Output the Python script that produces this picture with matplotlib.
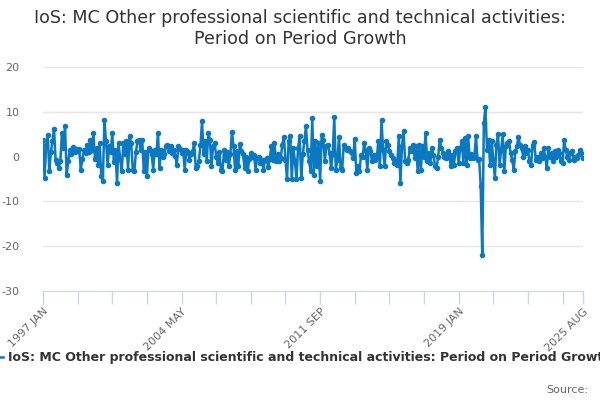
import numpy as np
import matplotlib
matplotlib.use("Agg")
import matplotlib.pyplot as plt

# monthly period-on-period growth, 1997 JAN .. 2025 AUG
growth = [
    3.8, -4.8, 2.5, 4.8, -3.3, 1.0, 3.5, 6.2, -0.8, -1.5, -2.5, -1.0,   # 1997
    5.3, 2.0, 6.8, -4.2, -1.0, 1.5, 0.5, 2.2, 1.0, 1.8, 1.2, 1.6,       # 1998
    -2.9, -0.5, 1.5, 0.8, 2.5, 1.0, 3.8, 1.5, 5.2, -0.5, 2.0, -1.8,     # 1999
    3.0, -4.4, -5.5, 8.2, 3.4, -1.8, 2.3, 1.0, 5.3, -1.2, 1.5, -5.9,    # 2000
    3.0, -0.5, -3.3, 3.0, 0.5, 3.4, -2.9, 4.5, 3.0, -2.9, -3.3, 1.0,    # 2001
    3.4, 3.8, 1.5, 3.8, -3.3, 1.0, -4.4, 2.0, 1.5, 0.5, -2.9, 1.5,      # 2002
    0.5, 5.3, -2.5, 1.5, 0.0, 0.5, 2.3, 2.6, 1.2, 2.3, 0.8, 1.5,        # 2003
    0.2, -1.8, 2.3, 1.8, 0.8, 1.5, -2.9, 1.5, 1.0, -0.7, 0.5, 1.2,      # 2004
    3.0, -2.5, -2.0, -1.0, 2.5, 7.9, 0.5, 3.4, -1.0, 5.3, 3.8, -2.2,    # 2005
    2.3, 3.0, 0.0, -1.4, 1.0, -2.9, -3.3, 1.5, -0.7, 1.0, -2.2, 0.5,    # 2006
    5.6, 2.3, -2.9, 1.2, -2.2, 2.8, 1.2, 0.5, -2.5, 0.0, -3.3, -0.5,    # 2007
    0.8, 0.0, 0.4, -2.9, -0.3, 0.0, -1.5, -0.8, -2.9, -0.7, -0.3, -2.3, # 2008
    -0.5, 2.3, -0.8, 3.0, -1.0, 0.5, -1.0, -0.3, 2.7, 4.4, -0.7, -5.0,  # 2009
    3.4, 4.6, -5.1, 1.9, -1.0, -5.1, 2.0, 4.5, -4.8, 0.5, 3.4, 6.8,     # 2010
    1.5, -1.0, -3.3, 8.6, -4.0, 3.4, -2.2, 3.0, -5.5, 4.9, 3.8, -1.0,   # 2011
    2.3, 2.6, 0.8, -2.6, 0.5, 8.8, -3.0, -0.7, 4.4, -2.5, -2.9, 2.6,    # 2012
    1.9, 1.5, 1.9, 1.2, 0.8, -0.3, 4.0, -3.7, -2.2, -3.3, 0.4, 0.0,     # 2013
    3.0, 1.2, -2.9, 1.9, 1.2, -1.0, 0.4, -0.7, -0.2, 3.4, -2.2, 8.2,    # 2014
    1.5, -2.2, 3.4, 2.6, 1.2, 0.4, -0.3, -1.4, -1.0, -1.8, 4.6, -5.9,   # 2015
    2.3, 5.7, -1.0, -1.4, -0.7, 1.9, 1.2, 2.7, -0.3, 2.3, -3.3, 2.7,    # 2016
    -2.9, 2.3, 0.0, 5.3, -1.0, 0.8, -1.4, 1.9, 0.4, -2.2, -2.5, 0.0,    # 2017
    3.8, 1.9, 0.8, 0.0, -0.3, 1.2, 0.4, -2.2, 0.4, -1.8, 1.2, 1.9,      # 2018
    -1.4, 1.9, 3.4, -1.4, 4.2, -1.8, 4.6, -0.3, 0.5, -0.3, 0.0, 4.6,    # 2019
    -0.7, -0.5, -6.5, -22.0, 7.5, 11.0, 1.5, 3.8, -1.8, 3.5, -0.7, -4.8,# 2020
    2.7, 5.0, -1.8, 1.5, 5.0, -3.3, 2.3, 3.0, 3.4, 0.8, -0.7, -2.9,     # 2021
    1.2, 2.3, 4.4, 2.6, 1.9, 0.0, 2.3, 0.8, 1.5, -1.0, -1.8, 2.6,       # 2022
    3.2, -0.7, 0.0, -1.0, 0.8, -0.3, 1.9, 0.0, -2.5, 1.9, 0.0, 0.8,     # 2023
    -1.0, 1.2, 0.0, 1.5, 0.8, -1.0, -1.4, 3.8, 1.5, 0.0, -0.7, 0.8,     # 2024
    1.2, -0.7, 0.0, -0.3, 0.4, 1.5, 0.8, -0.3,                          # 2025
]

tick_labels = ["1997 JAN", "2004 MAY", "2011 SEP", "2019 JAN", "2025 AUG"]
tick_pos = [0, 88, 176, 264, 343]
y_ticks = [-30, -20, -10, 0, 10, 20]

series_name = "IoS: MC Other professional scientific and technical activities: Period on Period Growth"
title = "IoS: MC Other professional scientific and technical activities:\nPeriod on Period Growth"

blue = "#0b79c1"
axis_col = "#ccd6eb"
grid_col = "#e6e6e6"

fig = plt.figure(figsize=(6, 4), dpi=100)
ax = fig.add_axes([0.0717, 0.2725, 0.9, 0.56])

x = np.arange(len(growth))
line, = ax.plot(x, growth, color=blue, lw=1.8, marker="o", ms=3.0, zorder=3,
                label=series_name)

ax.set_xlim(0, len(growth) - 1)
ax.set_ylim(-30, 20)
ax.set_yticks(y_ticks)
ax.set_yticklabels([str(v) for v in y_ticks], color="#666666", fontsize=8)
ax.tick_params(axis="y", length=0, pad=17)
ax.yaxis.grid(True, color=grid_col, lw=1)
ax.set_axisbelow(True)

ax.set_xticks(tick_pos)
ax.set_xticklabels(tick_labels, rotation=45, ha="right", rotation_mode="anchor",
                   color="#666666", fontsize=8)
ax.set_xticks(list(range(0, 343, 22)), minor=True)
ax.tick_params(axis="x", which="both", length=9, color=axis_col, width=1, pad=2)

for s in ["top", "right", "left"]:
    ax.spines[s].set_visible(False)
ax.spines["bottom"].set_color(axis_col)

fig.text(0.5, 0.978, title, ha="center", va="top", fontsize=12.6, color="#333333",
         linespacing=1.2)

fig.legend(handles=[line], loc="center", bbox_to_anchor=(0.5, 0.105), frameon=False,
           handlelength=1.2, handletextpad=0.4,
           prop={"weight": "bold", "size": 9}, labelcolor="#333333")

fig.text(0.98, 0.025, "Source:", ha="right", va="center", fontsize=8, color="#666666")

fig.savefig("out.png", dpi=100)
